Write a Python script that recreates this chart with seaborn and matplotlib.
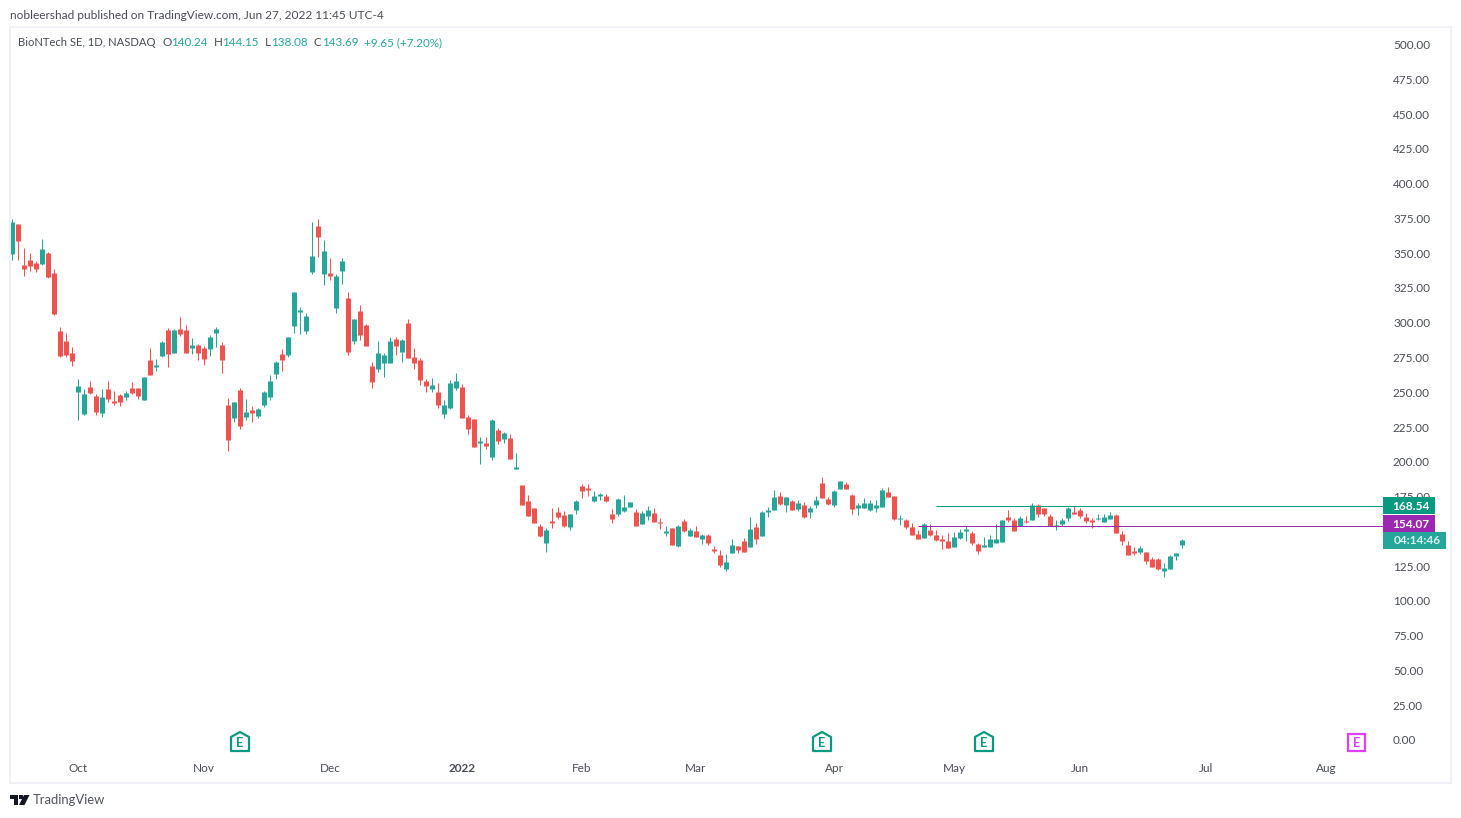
import matplotlib
matplotlib.use("Agg")
import matplotlib.pyplot as plt
from matplotlib.patches import Polygon, Rectangle
import pandas as pd
import seaborn as sns

W, H = 1461, 818
FONT = ["Lato", "DejaVu Sans"]

opens = [349.4,371,341.5,345.1,342.9,342.2,350.1,335.7,294,286.8,278.2,250.2,234.4,253.8,247.3,235.1,252.3,243.7,248,246.6,253,253,244.4,273.2,268.2,276,294.8,278.2,295.5,294.8,281.8,284,281.8,281.1,292.6,284,
240.8,231.5,251.6,232.2,237.2,232.9,240.8,246.6,263.1,277.5,276.8,297.6,307.7,294,336.4,369.5,335,335.7,310.6,337.2,317.7,286.8,308.4,298.3,268.9,266.7,271,271,288.3,278.9,299.8,275.3,273.2,258.1,252.3,250.2,234.4,238.7,253,
253.8,232.2,230.8,213.5,213.5,203.5,222.9,216.4,217.1,194.8,183.3,171.8,166.8,153.9,141.7,157.5,164,161.8,153.2,165.4,182.6,181.2,171.8,175.4,175.4,162.5,162.5,164.7,167.5,164,155.3,161,163.2,
156.7,148.8,152.4,139.5,157.5,146.7,150.3,144.5,147.4,137.3,133,122.9,134.5,139.5,143.1,138.8,153.1,146.7,163.9,165.4,175.4,169,171.8,166.1,169,163.9,169,184.8,173.3,169,180.5,184,176.1,166.8,166.8,165.4,166.8,
167.5,178.3,175.4,158.9,158.2,153.1,148.1,145.2,151,147.4,144.5,143,138.8,145.2,150.3,148.8,140.9,138.8,138.8,141.6,142.3,160.3,158.2,153.8,157.4,158.2,168.9,
166.8,161,153.8,155.3,159.6,163.9,165.3,160.3,158.1,158.9,156.7,158.9,161.7,148.1,140.2,135.9,135.1,135.1,130.1,130.1,121.5,122.9,132.3,140.24]
closes = [372.4,358.7,338.6,340.8,338.6,353,332.6,306.3,276,276.8,272.5,254.5,248.8,249.5,235.8,246.6,245.2,242.3,243,249.5,249.5,247.3,261,262.4,269.6,286.1,277.5,294.8,291.9,278.2,284,278.2,273.9,289.7,295.5,273.2,
215.7,243,225.7,235.8,235.1,238,250.2,258.1,271.7,273.2,289.7,322,309.1,304.8,347.9,361.6,351.5,333.6,333.6,344.3,278.9,302.7,291.2,283.2,257.4,278.2,276.8,286.8,283.2,287.6,274.6,271,258.8,254.5,255.2,240.8,240.8,256.6,258.1,
231.5,223.6,210.7,215,211.4,230.1,215,220.7,202,196.3,169,161,156,146.7,151,156,160.4,153.9,162.5,171.8,179,179.8,175.4,176.9,171.8,158.9,173.3,167.5,171.1,153.9,163.2,165.4,156.8,
156,150.3,140.2,153.9,150.3,151,146,147.4,141.6,135.9,125.8,128,140.2,136.6,135.2,151.7,144.5,163.9,165.4,174.7,169.7,174.7,165.4,170.4,160.3,166.8,172.5,174,169.7,179,186.2,180.5,166.1,169,170.4,170.4,169,
179.7,174.7,158.9,159.6,153.1,147.4,144.5,155.3,147.4,143.8,143,138,145.9,149.5,151.7,141.6,135.9,140.2,144.5,144.5,158.2,158.2,150.3,159.6,156.7,168.9,162.5,
162.5,153.8,154.5,158.1,166.8,162.5,161,157.4,156.7,159.6,160.3,161.7,148.8,143,133,134.4,138,128.7,124.4,122.9,123.6,132.3,134.4,143.69]
highs = [374.5,371,353.7,350.1,344.4,360.2,350.8,338.6,296.9,292.6,282.5,259.5,252.3,258.1,248.8,252.3,258.1,250.9,248.8,250.9,257.4,253,261,281.8,273.9,286.8,296.2,295.5,304.1,298.4,289,284.7,283.3,291.2,296.9,286.1,
245.9,243,253,245.1,240.1,238.7,250.9,262.4,272.5,281.1,289.7,322,311.3,307,372.4,374.5,359.4,346.5,335,346.5,322,302.7,312.7,299,271.7,286.8,278.2,289.7,289.7,288.3,302.7,281.8,274.6,259.5,260.2,256.6,244.4,258.8,263.8,
256,233.7,230.8,217.9,217.9,230.8,224.3,221.4,220,206.4,183.3,176.2,166.8,155.3,152.4,166.8,167.5,164.7,162.5,172.6,184,184,179,177.6,176.9,166.1,174,176.2,171.1,166.1,164.7,168.3,166.8,
159.6,153.9,152.4,154.6,158.9,152.4,153.9,148.1,148.1,139.5,136.6,133.7,144.5,139.5,145.2,160.3,156,164.6,167.5,179.7,178.3,174.7,172.5,172.5,171.1,168.2,175.4,189.1,174.7,179.7,186.2,185.5,176.9,170.4,174,172.5,172.5,
181.2,181.9,175.4,161.8,158.9,156,151,156,155.3,151,147.4,148.8,149.5,151.7,153.8,150.3,141.6,145.9,147.4,155.3,158.2,165.4,159.6,161,161,170.4,169.6,
166.8,162.5,158.1,159.6,167.5,168.2,166.8,163.2,159.6,162.5,162.5,163.9,162.5,150.2,143,138.7,139.4,135.1,131.5,130.8,127.2,133,134.4,144.15]
lows = [345.1,345.1,333.6,337.2,336.4,341.5,332.1,305.5,275.3,275.3,268.9,230.1,233.7,248.8,233.7,232.2,243,240.8,240.1,244.4,248.8,245.2,244.4,262.4,265.3,275.3,268.2,278.2,290.4,278.2,277.5,273.2,269.6,276,282.5,263.8,
207.8,228.6,223.6,230.1,228.6,231.5,239.4,244.4,259.5,265.3,275.3,292.6,291.9,291.9,335,347.2,327.1,330.7,307,327.8,276.8,284.7,287.6,283.2,253,264.6,261,271,276.8,271.7,274.6,266.7,255.2,250.2,250.2,238.7,231.5,238,251.6,
231.5,220,210.7,198.4,209.2,201.3,212.8,213.5,202,194.8,169,161,156,146,135.2,152.4,158.9,153.2,151,162.5,174,175.4,171.1,172.6,171.1,156,161,164,167.5,153.9,155.3,158.2,156.8,
151.7,146.7,140.2,138.8,149.5,146.7,146,140.9,140.2,134.5,124.4,121.5,134.5,134.5,135.2,138.8,140.9,146.7,160.3,165.4,169,163.9,165.4,164.6,159.6,159.6,166.8,174,169,167.5,180.5,180.5,162.5,161.8,166.8,164.6,163.9,
167.5,174.7,158.2,154.6,151.7,147.4,144.5,145.2,146.7,143,137.3,138,138.8,144.5,143,140.2,133.7,138.8,138.8,141.6,142.3,156.7,150.3,153.8,156,158.2,160.3,
161,153.8,150.9,153.8,157.4,162.5,159.6,156,152.4,158.1,156.7,158.9,148.8,140.2,133,133,133.7,126.5,124.4,122.2,117.2,122.9,129.4,138.08]

price_ticks = [0, 25, 50, 75, 100, 125, 175, 200, 225, 250, 275, 300, 325, 350, 375, 400, 425, 450, 475, 500]
month_labels = ["Oct", "Nov", "Dec", "2022", "Feb", "Mar", "Apr", "May", "Jun", "Jul", "Aug"]
month_index = [11, 32, 53, 75, 95, 114, 137, 157, 178, 199, 219]
level_values = [168.54, 154.07]
level_start = [154, 151]
level_end = 228.5

UP, DOWN = "#26a69a", "#ef5350"
TEAL_TAG, PURPLE = "#089981", "#9c27b0"
TEXT = "#4a4d57"
PINK = "#e040fb"
FS = 8.5

sns.set_theme(style="white")
plt.rcParams["font.family"] = FONT
plt.rcParams["lines.solid_capstyle"] = "butt"

fig = plt.figure(figsize=(W / 100, H / 100), dpi=100, facecolor="white")
L, R, T, B = 10, 1451, 27, 783
ax = fig.add_axes([L / W, 1 - B / H, (R - L) / W, (B - T) / H])


def fx(x):
    return x / W


def fy(y):
    return 1 - y / H


candles = pd.DataFrame({"i": range(len(opens)), "open": opens, "close": closes, "high": highs, "low": lows})
candles["dir"] = ["up" if c >= o else "down" for o, c in zip(opens, closes)]
palette = {"up": UP, "down": DOWN}

wicks = candles.melt(id_vars=["i", "dir"], value_vars=["high", "low"], value_name="price")
bodies = candles.melt(id_vars=["i", "dir"], value_vars=["open", "close"], value_name="price")
sns.lineplot(data=wicks, x="i", y="price", hue="dir", units="i", estimator=None, palette=palette,
             linewidth=0.72, legend=False, ax=ax, sort=False)
sns.lineplot(data=bodies, x="i", y="price", hue="dir", units="i", estimator=None, palette=palette,
             linewidth=3.6, legend=False, ax=ax, sort=False)

ax.hlines(level_values, level_start, level_end, colors=[TEAL_TAG, PURPLE], linewidth=0.72, zorder=3)

ax.set_xlim((L - 12) / 6, (R - 12) / 6)
ax.set_ylim((740 - B) * 0.7189, (740 - T) * 0.7189)
ax.set_xlabel("")
ax.set_ylabel("")
ax.yaxis.tick_right()
ax.set_yticks(price_ticks)
ax.set_yticklabels([f"{v:.2f}" for v in price_ticks])
ax.tick_params(axis="y", length=0, pad=-41.8, labelsize=FS, labelcolor=TEXT)
ax.set_xticks(month_index)
ax.set_xticklabels(month_labels)
ax.tick_params(axis="x", length=0, pad=-7.6, labelsize=FS, labelcolor=TEXT)
for lbl in ax.get_xticklabels():
    lbl.set_va("baseline")
    if lbl.get_text() == "2022":
        lbl.set_fontweight("bold")
for s in ax.spines.values():
    s.set_color("#eff1f6")
    s.set_linewidth(1.44)


def ftext(x, y, s, **kw):
    kw.setdefault("fontsize", FS)
    kw.setdefault("color", TEXT)
    kw.setdefault("va", "center")
    kw.setdefault("zorder", 10)
    return fig.text(fx(x), fy(y), s, **kw)


def frect(x0, y0, x1, y1, color):
    fig.add_artist(Rectangle((fx(x0), fy(y1)), fx(x1 - x0), (y1 - y0) / H, transform=fig.transFigure,
                             facecolor=color, edgecolor="none", zorder=8))


# Price tags
frect(1383, 497, 1435, 514, TEAL_TAG)
frect(1383, 515, 1435, 532, PURPLE)
frect(1383, 532, 1446, 549, UP)
ftext(1411, 506, "168.54", color="white", ha="center", fontweight="bold", fontsize=8.6)
ftext(1411, 524, "154.07", color="white", ha="center", fontweight="bold", fontsize=8.6)
ftext(1417, 541, "04:14:46", color="#d9f2ef", ha="center", fontweight="bold", fontsize=8.6)

# Header
ftext(10, 15.5, "nobleershad published on TradingView.com, Jun 27, 2022 11:45 UTC-4", fontsize=8.6)
ftext(18, 42.5, "BioNTech SE, 1D, NASDAQ", fontsize=8.1)
for x, s, col in [(162.5, "O", TEXT), (171.5, "140.24", UP), (214, "H", TEXT), (222.5, "144.15", UP),
                  (265, "L", TEXT), (271.5, "138.08", UP), (314, "C", TEXT), (322, "143.69", UP),
                  (364, "+9.65 (+7.20%)", UP)]:
    ftext(x, 42.5, s, color=col, fontsize=8.4)


# Earnings markers
def house(cx):
    pts = [(cx - 9, 737), (cx, 732), (cx + 9, 737), (cx + 9, 751), (cx - 9, 751)]
    fig.add_artist(Polygon([(fx(a), fy(b)) for a, b in pts], closed=True, transform=fig.transFigure,
                           facecolor="white", edgecolor=TEAL_TAG, linewidth=1.6, joinstyle="round", zorder=8))
    ftext(cx, 743, "E", color=TEAL_TAG, ha="center", fontsize=9, fontweight="bold")


for cx in [240, 822, 984]:
    house(cx)
fig.add_artist(Rectangle((fx(1348), fy(751)), fx(17), 17 / H, transform=fig.transFigure,
                         facecolor="white", edgecolor=PINK, linewidth=1.6, zorder=8))
ftext(1356.5, 743, "E", color=PINK, ha="center", fontsize=9, fontweight="bold")

# Footer logo
LOGO = "#131722"
for pts in ([(10, 795), (18, 795), (18, 805), (14, 805), (14, 799), (10, 799)],
            [(24, 795), (29.5, 795), (24.5, 805), (19, 805)],
            [(19, 795), (23, 795), (23, 799), (19, 799)]):
    fig.add_artist(Polygon([(fx(a), fy(b)) for a, b in pts], closed=True, transform=fig.transFigure,
                           facecolor=LOGO, edgecolor="none", zorder=8))
ftext(33, 800.5, "TradingView", fontsize=9.4, color="#50535e")

fig.savefig("out.png", dpi=100, facecolor="white")
